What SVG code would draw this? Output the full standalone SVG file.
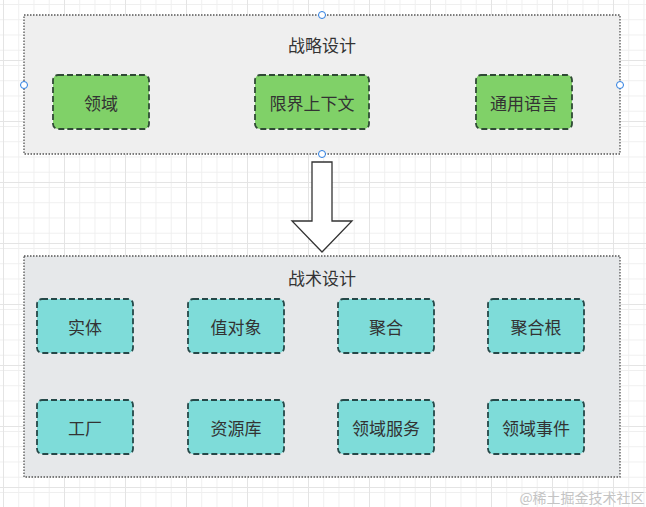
<svg xmlns="http://www.w3.org/2000/svg" width="646" height="507" viewBox="0 0 646 507">
<defs>
<pattern id="grid" x="3" y="4" width="15.25" height="15.25" patternUnits="userSpaceOnUse">
<path d="M0 0.5H15.25M0.5 0V15.25" fill="none" stroke="#efefef" stroke-width="1"/>
</pattern>
<pattern id="gridMajor" x="3" y="-1" width="61" height="61" patternUnits="userSpaceOnUse">
<path d="M0 0.5H61M0.5 0V61" fill="none" stroke="#e4e4e4" stroke-width="1"/>
</pattern>
</defs>
<style>
text{font-family:"Noto Sans CJK SC","Noto Sans",sans-serif;text-anchor:middle;dominant-baseline:central;fill:#333;}
.container{stroke:#555;stroke-width:1.3;stroke-dasharray:1.5 1.5;}
.green{fill:#80d168;stroke:#2f4a35;stroke-width:1.8;stroke-dasharray:6 3;}
.cyan{fill:#7edcd9;stroke:#254848;stroke-width:1.8;stroke-dasharray:6 3;}
.lbl{font-size:17px;}
.handle{fill:#fff;stroke:#2a7de1;stroke-width:1;}
</style>
<rect width="646" height="507" fill="#ffffff"/>
<rect width="646" height="507" fill="url(#grid)"/>
<rect width="646" height="507" fill="url(#gridMajor)"/>

<g id="strategic">
<rect class="container" x="24" y="15" width="596" height="139" fill="#efefef"/>
<text class="lbl" x="322" y="44">战略设计</text>
</g>
<g id="domain"><rect class="green" x="53" y="75" width="96" height="54" rx="5"/><text class="lbl" x="101" y="102">领域</text></g>
<g id="bounded-context"><rect class="green" x="255" y="75" width="114" height="54" rx="5"/><text class="lbl" x="312" y="102">限界上下文</text></g>
<g id="ubiquitous-language"><rect class="green" x="476" y="75" width="96" height="54" rx="5"/><text class="lbl" x="524" y="102">通用语言</text></g>

<g id="tactical">
<rect class="container" x="24" y="256" width="596" height="221" fill="#e6e8ea"/>
<text class="lbl" x="322" y="277">战术设计</text>
</g>
<g id="entity"><rect class="cyan" x="37" y="299" width="96" height="54" rx="5"/><text class="lbl" x="85" y="326">实体</text></g>
<g id="value-object"><rect class="cyan" x="188" y="299" width="96" height="54" rx="5"/><text class="lbl" x="236" y="326">值对象</text></g>
<g id="aggregate"><rect class="cyan" x="338" y="299" width="96" height="54" rx="5"/><text class="lbl" x="386" y="326">聚合</text></g>
<g id="aggregate-root"><rect class="cyan" x="488" y="299" width="96" height="54" rx="5"/><text class="lbl" x="536" y="326">聚合根</text></g>
<g id="factory"><rect class="cyan" x="37" y="400" width="96" height="54" rx="5"/><text class="lbl" x="85" y="427">工厂</text></g>
<g id="repository"><rect class="cyan" x="188" y="400" width="96" height="54" rx="5"/><text class="lbl" x="236" y="427">资源库</text></g>
<g id="domain-service"><rect class="cyan" x="338" y="400" width="96" height="54" rx="5"/><text class="lbl" x="386" y="427">领域服务</text></g>
<g id="domain-event"><rect class="cyan" x="488" y="400" width="96" height="54" rx="5"/><text class="lbl" x="536" y="427">领域事件</text></g>

<g id="connectors">
<polygon points="312,162 332,162 332,221 352,221 322,252 292,221 312,221" fill="#fff" stroke="#333" stroke-width="1.3" stroke-linejoin="miter"/>
</g>

<g id="handles">
<circle class="handle" cx="322" cy="15" r="3.5"/>
<circle class="handle" cx="322" cy="154" r="3.5"/>
<circle class="handle" cx="24" cy="85" r="3.5"/>
<circle class="handle" cx="620" cy="85" r="3.5"/>
</g>

<text x="582" y="497" style="font-size:14px;fill:#c4c4c4;font-family:'Noto Sans CJK SC',sans-serif">@稀土掘金技术社区</text>
</svg>
